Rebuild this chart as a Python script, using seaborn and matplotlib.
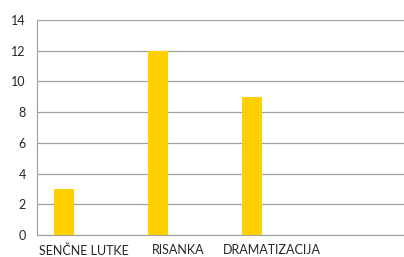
import pandas as pd
import matplotlib.pyplot as plt
import seaborn as sns
from matplotlib.ticker import FixedLocator

kategorije = ["SENČNE LUTKE", "RISANKA", "DRAMATIZACIJA", ""]
serija1 = [3, 12, 9, 0]
serija2 = [0, 0, 0, 0]
serija3 = [0, 0, 0, 0]
y_ticks = [0, 2, 4, 6, 8, 10, 12, 14]

rows = []
for i, k in enumerate(kategorije):
    rows.append({"kat": i, "serija": "S1", "vrednost": serija1[i]})
    rows.append({"kat": i, "serija": "S2", "vrednost": serija2[i]})
    rows.append({"kat": i, "serija": "S3", "vrednost": serija3[i]})
df = pd.DataFrame(rows)

sns.set_style("white")
plt.rcParams["font.family"] = ["Lato", "DejaVu Sans"]

fig = plt.figure(figsize=(4.04, 2.57), dpi=100)
ax = fig.add_axes([37 / 404, 1 - 235 / 257, 1 - 37 / 404, (235 - 20) / 257])

sns.barplot(data=df, x="kat", y="vrednost", hue="serija", order=range(len(kategorije)),
            palette=["#FFD000", "#FFD000", "#FFD000"], width=0.64, legend=False,
            ax=ax, saturation=1, linewidth=0, zorder=3)

ax.set_ylim(0, 14)
ax.set_xlim(-0.5, -0.5 + 367 / 94)
ax.set_yticks(y_ticks)
ax.set_xticks(range(len(kategorije)))
ax.set_xticklabels(kategorije)
ax.xaxis.set_minor_locator(FixedLocator([i - 0.5 for i in range(len(kategorije) + 1)]))
ax.set_xlabel("")
ax.set_ylabel("")

ax.grid(axis="y", color="#a0a0a0", linewidth=0.9, zorder=0)
for s in ["top", "right"]:
    ax.spines[s].set_visible(False)
ax.spines["left"].set_color("#a0a0a0")
ax.spines["bottom"].set_color("#a0a0a0")

ax.tick_params(axis="x", which="major", length=0, pad=6.5, labelsize=9, colors="#262626")
ax.tick_params(axis="x", which="minor", length=4, color="#a0a0a0", direction="out")
ax.tick_params(axis="y", length=4, color="#a0a0a0", direction="out", pad=4, labelsize=9,
               colors="#262626")

fig.savefig("out.png", dpi=100)
